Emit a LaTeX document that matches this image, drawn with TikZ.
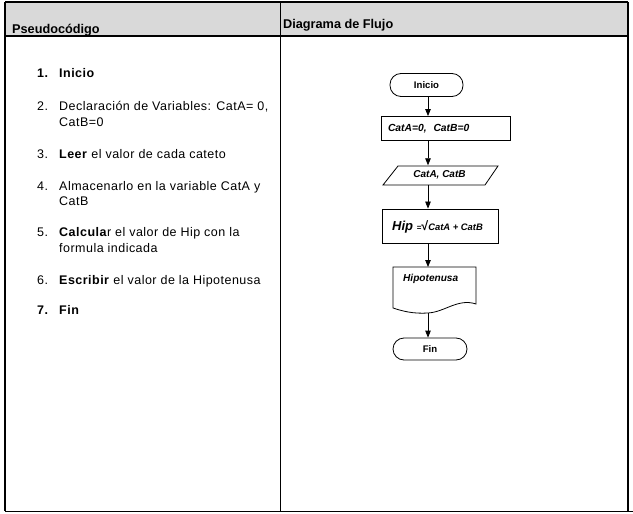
\documentclass[tikz,border=0pt]{standalone}
\usepackage{fontspec}
\setmainfont{Liberation Sans}
\usetikzlibrary{arrows.meta}
\definecolor{hdrgray}{RGB}{217,217,217}
\newcommand{\bodyfont}{\fontsize{12.5bp}{15bp}\selectfont\addfontfeatures{LetterSpace=3.8}}
\begin{document}
\begin{tikzpicture}[x=1bp,y=-1bp,
  tbl/.style={line width=1.2bp, black},
  fl/.style={line width=0.8bp, black},
  arr/.style={line width=0.8bp, -{Triangle[width=5.5bp,length=7bp]}},
  num/.style={anchor=base west, inner sep=0pt, font=\bodyfont},
  txt/.style={anchor=base west, inner sep=0pt, font=\bodyfont},
  hdr/.style={anchor=base west, inner sep=0pt, font=\fontsize{12.7bp}{15bp}\selectfont\bfseries},
  term/.style={draw, fl, rounded corners=11bp, inner sep=0pt, font=\fontsize{9.6bp}{11bp}\selectfont\bfseries},
  fbox/.style={draw, fl, inner sep=0pt, font=\fontsize{10.3bp}{12bp}\selectfont\bfseries\itshape}
]
\useasboundingbox (0,0) rectangle (633,514);
% table
\fill[hdrgray] (5,2) rectangle (628,36);
\draw[tbl] (5,2) -- (628,2);
\draw[tbl] (5,36) -- (628,36);
\draw[tbl] (5,2) -- (5,511);
\draw[tbl] (280.5,2) -- (280.5,511);
\draw[tbl] (628,2) -- (628,511);
\draw[tbl] (5,511.5) -- (633,511.5);
\node[hdr] (h1) at (12,34) {Pseudocódigo};
\node[hdr] (h2) at (283,29) {Diagrama de Flujo};
% pseudocode
\node[num] (n1) at (37,78) {\textbf{1.}};
\node[txt] (t1) at (59,78) {\textbf{Inicio}};
\node[num] (n2) at (37,111) {2.};
\node[txt] (t2) at (59,111) {Declaración de Variables: CatA= 0,};
\node[txt] (t2b) at (59,127) {CatB=0};
\node[num] (n3) at (37,159) {3.};
\node[txt] (t3) at (59,159) {\textbf{Leer} el valor de cada cateto};
\node[num] (n4) at (37,191) {4.};
\node[txt] (t4) at (59,191) {Almacenarlo en la variable CatA y};
\node[txt] (t4b) at (59,206) {CatB};
\node[num] (n5) at (37,237) {5.};
\node[txt] (t5) at (59,237) {\textbf{Calcula}r el valor de Hip con la};
\node[txt] (t5b) at (59,253) {formula indicada};
\node[num] (n6) at (37,284) {6.};
\node[txt] (t6) at (59,284) {\textbf{Escribir} el valor de la Hipotenusa};
\node[num] (n7) at (37,314) {\textbf{7.}};
\node[txt] (t7) at (59,314) {\textbf{Fin}};
% flowchart
\coordinate (col) at (428,0);
\node[term, minimum width=73bp, minimum height=23bp] (ini) at (426.5,85) {Inicio};
\node[fbox, minimum width=129bp, minimum height=24bp, text width=115bp, inner xsep=7bp, align=left] (r1) at (445.5,128.5) {CatA=0,\ \ CatB=0};
\draw[fl] (398,166) -- (498,166) -- (485,185) -- (383,185) -- cycle;
\node[inner sep=0pt, minimum width=115bp, minimum height=19bp, font=\fontsize{10bp}{12bp}\selectfont\bfseries\itshape] (io) at (439.5,175) {CatA,\ CatB};
\node[fbox, minimum width=116bp, minimum height=34bp] (hip) at (440,226) {};
\node[anchor=base west, inner sep=0pt, font=\bfseries\itshape] (hipt) at (392,231) {\fontsize{13bp}{15bp}\selectfont Hip\ \fontsize{8bp}{10bp}\selectfont\upshape =\fontsize{12.5bp}{13bp}\selectfont√\fontsize{9.4bp}{12bp}\selectfont\itshape CatA + CatB};
\draw[fl] (393,267) -- (476,267) -- (476,304) .. controls (458,298) and (445,312) .. (428,313) .. controls (413,314) and (402,311) .. (393,308) -- cycle;
\coordinate (docb) at (428,313);
\coordinate (doct) at (428,267);
\node[anchor=base west, inner sep=0pt, font=\fontsize{10.1bp}{12bp}\selectfont\bfseries\itshape] (doc) at (403,281) {Hipotenusa};
\node[term, minimum width=74bp, minimum height=22bp] (fin) at (430,349) {Fin};
% connectors
\draw[arr] (ini.south -| col) -- (r1.north -| col);
\draw[arr] (r1.south -| col) -- (io.north -| col);
\draw[arr] (io.south -| col) -- (hip.north -| col);
\draw[arr] (hip.south -| col) -- (doct);
\draw[arr] (docb) -- (fin.north -| col);
\end{tikzpicture}
\end{document}
